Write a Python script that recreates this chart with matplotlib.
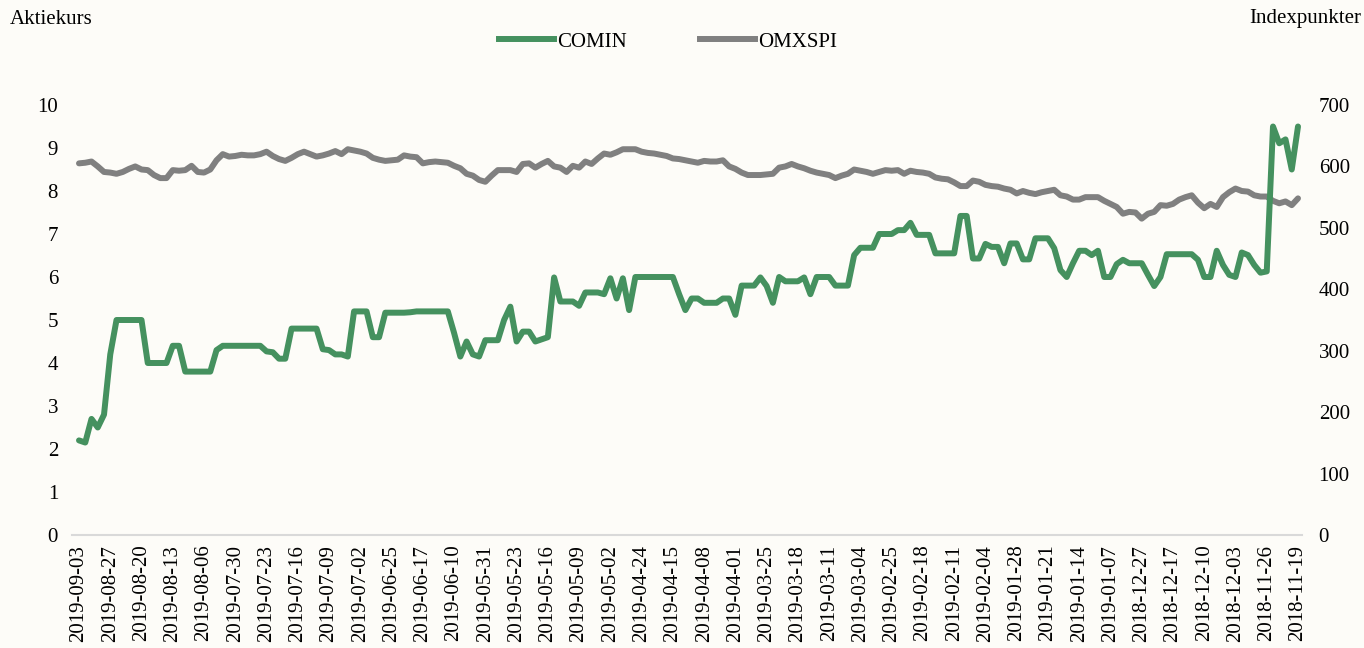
import matplotlib
matplotlib.use("Agg")
import matplotlib.pyplot as plt
from matplotlib.lines import Line2D

# COMIN share price (left axis), newest first: 2019-09-03 ... 2018-11-19
comin = [
    2.2, 2.15, 2.7, 2.5, 2.8, 4.2,
    5.0, 5.0, 5.0, 5.0, 5.0,
    4.0, 4.0, 4.0, 4.0,
    4.4, 4.4,
    3.8, 3.8, 3.8, 3.8, 3.8,
    4.3,
    4.4, 4.4, 4.4, 4.4, 4.4, 4.4, 4.4,
    4.27, 4.25, 4.1, 4.1,
    4.8, 4.8, 4.8, 4.8, 4.8,
    4.32, 4.3, 4.2, 4.2, 4.15,
    5.2, 5.2, 5.2,
    4.6, 4.6,
    5.17, 5.17, 5.17, 5.17, 5.18, 5.2, 5.2, 5.2, 5.2, 5.2, 5.2,
    4.7, 4.15, 4.5, 4.2, 4.15,
    4.53, 4.53, 4.53,
    5.0, 5.31, 4.5, 4.73, 4.73, 4.5, 4.55, 4.6,
    5.99, 5.43, 5.43, 5.43, 5.33,
    5.64, 5.64, 5.64, 5.6, 5.97, 5.5, 5.97, 5.23,
    6.0, 6.0, 6.0, 6.0, 6.0, 6.0, 6.0,
    5.6, 5.23, 5.5, 5.5,
    5.4, 5.4, 5.4, 5.5, 5.5, 5.12,
    5.8, 5.8, 5.8, 5.99, 5.79, 5.4, 6.0,
    5.9, 5.9, 5.9, 5.99, 5.6,
    6.0, 6.0, 6.0,
    5.8, 5.8, 5.8,
    6.51, 6.68, 6.68, 6.68,
    7.0, 7.0, 7.0, 7.09, 7.09, 7.26,
    6.98, 6.98, 6.98,
    6.55, 6.55, 6.55, 6.55,
    7.42, 7.42, 6.43, 6.43, 6.77, 6.7, 6.7, 6.32, 6.78, 6.78, 6.41, 6.41,
    6.9, 6.9, 6.9, 6.67, 6.16, 6.0, 6.32, 6.61, 6.61, 6.51, 6.61,
    6.0, 6.0, 6.3, 6.4, 6.32, 6.32, 6.32, 6.05, 5.79, 6.0,
    6.53, 6.53, 6.53, 6.53, 6.53,
    6.4, 6.0, 6.0, 6.61, 6.28, 6.05, 6.0, 6.57, 6.51, 6.28, 6.1, 6.13,
    9.5, 9.11, 9.2, 8.5, 9.5,
]

# OMXSPI index points (right axis), same dates
omxspi = [
    605, 606, 608, 600, 591, 590, 588, 591, 596, 600,
    595, 594, 586, 581, 581, 594, 593, 594, 601, 591,
    590, 595, 610, 620, 616, 617, 619, 618, 618, 620,
    624, 617, 612, 609, 614, 620, 624, 620, 616, 618,
    621, 625, 620, 628, 626, 624, 621, 614, 611, 609,
    610, 611, 618, 616, 615, 605, 607, 608, 607, 606,
    601, 597, 588, 585, 578, 575, 585, 594, 594, 594,
    591, 604, 605, 598, 604, 609, 600, 598, 591, 601,
    598, 608, 604, 613, 621, 619, 623, 628, 628, 628,
    624, 622, 621, 619, 617, 613, 612, 610, 608, 606,
    609, 608, 608, 610, 600, 596, 590, 586, 586, 586,
    587, 588, 598, 600, 604, 600, 597, 593, 590, 588,
    586, 581, 585, 588, 595, 593, 591, 588, 591, 594,
    593, 594, 588, 593, 591, 590, 588, 582, 580, 579,
    574, 568, 568, 577, 575, 570, 568, 567, 564, 562,
    556, 560, 557, 555, 558, 560, 562, 553, 551, 546,
    546, 550, 550, 550, 544, 539, 534, 523, 526, 525,
    515, 523, 526, 537, 536, 539, 546, 550, 553, 541,
    532, 539, 534, 550, 558, 564, 560, 559, 553, 551,
    551, 544, 540, 543, 537, 548,
]

tick_dates = [
    "2019-09-03", "2019-08-27", "2019-08-20", "2019-08-13", "2019-08-06",
    "2019-07-30", "2019-07-23", "2019-07-16", "2019-07-09", "2019-07-02",
    "2019-06-25", "2019-06-17", "2019-06-10", "2019-05-31", "2019-05-23",
    "2019-05-16", "2019-05-09", "2019-05-02", "2019-04-24", "2019-04-15",
    "2019-04-08", "2019-04-01", "2019-03-25", "2019-03-18", "2019-03-11",
    "2019-03-04", "2019-02-25", "2019-02-18", "2019-02-11", "2019-02-04",
    "2019-01-28", "2019-01-21", "2019-01-14", "2019-01-07", "2018-12-27",
    "2018-12-17", "2018-12-10", "2018-12-03", "2018-11-26", "2018-11-19",
]
tick_step = 5

green = "#45915F"
grey = "#808080"
bg = "#FDFCF8"

plt.rcParams["font.family"] = ["Liberation Serif", "DejaVu Serif"]
plt.rcParams["font.size"] = 15

fig = plt.figure(figsize=(13.64, 6.48), dpi=100, facecolor=bg)
ax = fig.add_axes([72 / 1364, 113 / 648, 1230 / 1364, 430 / 648])
ax2 = ax.twinx()

n = len(comin)
xs = list(range(n))
ax2.plot(xs, omxspi[:n], color=grey, lw=4.3, solid_joinstyle="round", solid_capstyle="round")
ax.plot(xs, comin, color=green, lw=4.3, solid_joinstyle="round", solid_capstyle="round")

# left axis drawn above the twin so the green line sits on top
ax.set_zorder(ax2.get_zorder() + 1)
ax.patch.set_visible(False)
ax2.set_facecolor(bg)

ax.set_xlim(-1.12, n - 1 + 0.64)
ax.set_ylim(0, 10)
ax2.set_ylim(0, 700)
ax.set_yticks(range(0, 11))
ax2.set_yticks(range(0, 701, 100))

ax.set_xticks(range(0, n, tick_step))
ax.set_xticklabels(tick_dates[: len(range(0, n, tick_step))], rotation=90)

for a in (ax, ax2):
    for s in a.spines.values():
        s.set_visible(False)
    a.tick_params(length=0)
ax.spines["bottom"].set_visible(True)
ax.spines["bottom"].set_color("#D9D9D9")
ax.spines["bottom"].set_linewidth(1.5)
ax.tick_params(axis="x", pad=7)
ax.tick_params(axis="y", pad=10)
ax2.tick_params(axis="y", pad=12)

fig.text(10 / 1364, 1 - 19 / 648, "Aktiekurs", ha="left", va="center")
fig.text(1361 / 1364, 1 - 19 / 648, "Indexpunkter", ha="right", va="center")

handles = [Line2D([], [], color=green, lw=4.3), Line2D([], [], color=grey, lw=4.3)]
fig.legend(handles, ["COMIN", "OMXSPI"], loc="center", bbox_to_anchor=(0.49, 1 - 42 / 648),
           ncol=2, frameon=False, handlelength=2.65, handletextpad=0.15, columnspacing=3.5)

fig.savefig("out.png", dpi=100, facecolor=bg)
